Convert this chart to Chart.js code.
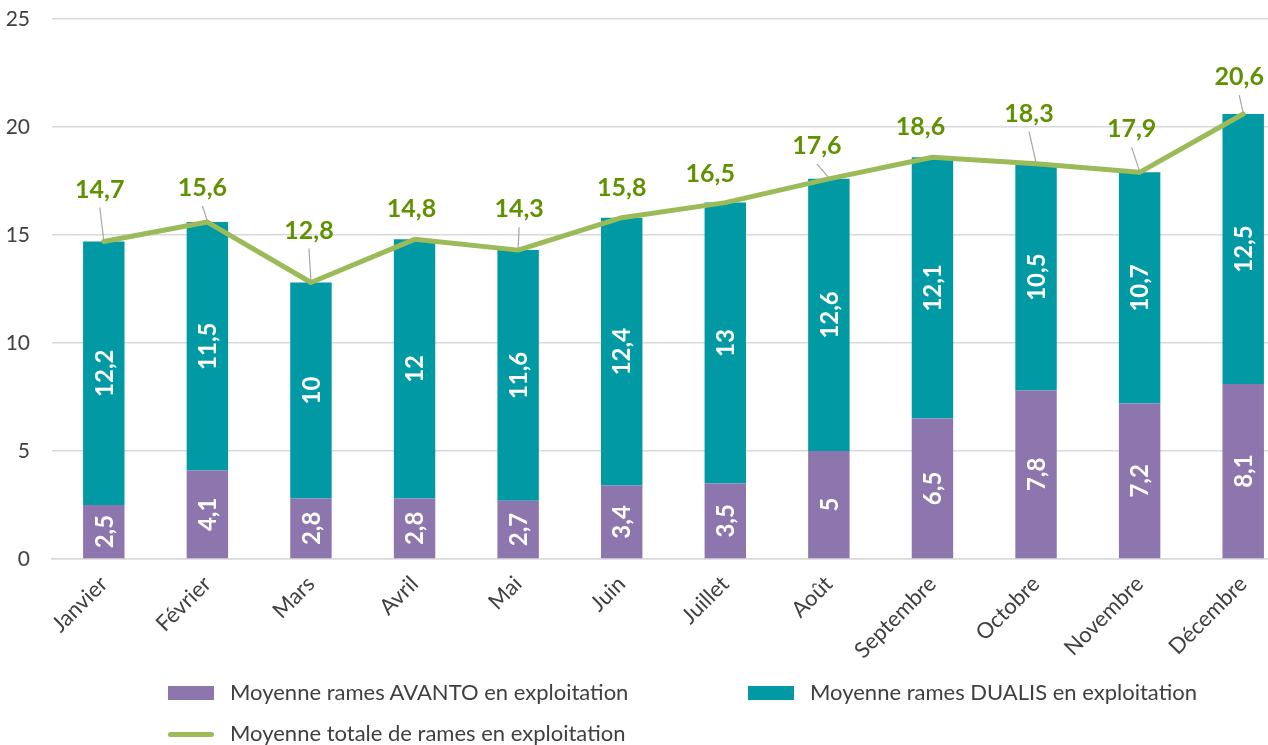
<!DOCTYPE html>
<html lang="fr">
<head>
<meta charset="utf-8">
<script src="https://cdn.jsdelivr.net/npm/chart.js@4/dist/chart.umd.min.js"></script>
<style>
  html, body { margin: 0; padding: 0; background: #fff; overflow: hidden; }
  #wrap { position: relative; width: 1268px; height: 745px; overflow: hidden; }
  #chart { position: absolute; left: 0; top: 0; }
  .legend-item { position: absolute; font-family: Lato, sans-serif; font-size: 22px; color: #404040; white-space: nowrap; line-height: 24px; }
  .swatch { position: absolute; }
</style>
</head>
<body>
<div id="wrap">
  <canvas id="chart" width="1295" height="745"></canvas>
</div>
<script>
// Data
const months = ['Janvier', 'Février', 'Mars', 'Avril', 'Mai', 'Juin', 'Juillet', 'Août', 'Septembre', 'Octobre', 'Novembre', 'Décembre'];
const avanto = [2.5, 4.1, 2.8, 2.8, 2.7, 3.4, 3.5, 5, 6.5, 7.8, 7.2, 8.1];
const dualis = [12.2, 11.5, 10, 12, 11.6, 12.4, 13, 12.6, 12.1, 10.5, 10.7, 12.5];
const total = [14.7, 15.6, 12.8, 14.8, 14.3, 15.8, 16.5, 17.6, 18.6, 18.3, 17.9, 20.6];

const seriesNames = [
  'Moyenne rames AVANTO en exploitation',
  'Moyenne rames DUALIS en exploitation',
  'Moyenne totale de rames en exploitation'
];

// style: where each total label sits relative to its point (px)
const totalLabelDx = [-4, -5, -2, -3, 1, 0, -15, -12, -12, -7, -8, -4];
const totalLabelLift = [52, 34, 52, 30, 41, 30, 29, 33, 30, 50, 43, 37];

const colors = {
  purple: '#8d75ad',
  teal: '#0099a4',
  line: '#9bbb59',
  labelGreen: '#5f9100',
  text: '#404040',
  grid: '#d9d9d9',
  leader: '#a6a6a6'
};

const fmt = v => String(v).replace('.', ',');

// labels drawn on top of bars and line
const valueLabels = {
  id: 'valueLabels',
  afterDatasetsDraw(chart) {
    const ctx = chart.ctx;
    ctx.save();
    // bar labels, rotated
    [0, 1].forEach(di => {
      const meta = chart.getDatasetMeta(di);
      const values = chart.data.datasets[di].data;
      meta.data.forEach((bar, i) => {
        const cy = (bar.y + bar.base) / 2;
        ctx.save();
        ctx.translate(bar.x, cy);
        ctx.rotate(-Math.PI / 2);
        ctx.fillStyle = '#ffffff';
        ctx.font = 'bold 24px Lato, sans-serif';
        ctx.textAlign = 'center';
        ctx.textBaseline = 'middle';
        ctx.fillText(fmt(values[i]), 0, 1);
        ctx.restore();
      });
    });
    // total labels with leader lines
    const lineMeta = chart.getDatasetMeta(2);
    lineMeta.data.forEach((pt, i) => {
      const lx = pt.x + totalLabelDx[i];
      const ly = pt.y - totalLabelLift[i];
      if (totalLabelLift[i] > 32) {
        ctx.strokeStyle = colors.leader;
        ctx.lineWidth = 1.2;
        ctx.beginPath();
        ctx.moveTo(lx, ly + 18);
        ctx.lineTo(pt.x, pt.y - 1);
        ctx.stroke();
      }
      ctx.fillStyle = colors.labelGreen;
      ctx.font = 'bold 25px Lato, sans-serif';
      ctx.textAlign = 'center';
      ctx.textBaseline = 'middle';
      ctx.fillText(fmt(total[i]), lx, ly);
    });
    ctx.restore();
  }
};

new Chart(document.getElementById('chart'), {
  type: 'bar',
  data: {
    labels: months,
    datasets: [
      {
        label: seriesNames[0],
        data: avanto,
        backgroundColor: colors.purple,
        stack: 'bars',
        order: 2,
        barPercentage: 0.4,
        categoryPercentage: 1
      },
      {
        label: seriesNames[1],
        data: dualis,
        backgroundColor: colors.teal,
        stack: 'bars',
        order: 2,
        barPercentage: 0.4,
        categoryPercentage: 1
      },
      {
        type: 'line',
        label: seriesNames[2],
        data: total,
        borderColor: colors.line,
        borderWidth: 5,
        pointRadius: 0,
        tension: 0,
        stack: 'total',
        order: 1,
        borderJoinStyle: 'round',
        borderCapStyle: 'round'
      }
    ]
  },
  options: {
    responsive: false,
    animation: false,
    devicePixelRatio: 1,
    layout: { padding: { top: 19, left: 0, right: 0, bottom: 0 } },
    plugins: {
      legend: { display: false },
      tooltip: { enabled: false }
    },
    scales: {
      x: {
        stacked: true,
        grid: { display: false, drawTicks: false },
        border: { color: colors.grid, width: 1.5 },
        ticks: {
          color: colors.text,
          font: { family: 'Lato, sans-serif', size: 22 },
          minRotation: 45,
          maxRotation: 45,
          padding: 12
        },
        afterFit(scale) { scale.height = 186; }
      },
      y: {
        stacked: true,
        min: 0,
        max: 25,
        grid: { color: colors.grid, lineWidth: 1.5, drawTicks: false },
        border: { display: false },
        ticks: {
          stepSize: 5,
          color: colors.text,
          font: { family: 'Lato, sans-serif', size: 21 },
          padding: 22
        },
        afterFit(scale) {
          scale.width = 52;
          scale.paddingTop = 0;
          scale.paddingBottom = 0;
        }
      }
    }
  },
  plugins: [valueLabels]
});

// legend (two columns, two rows like the original)
const legendSpec = [
  { name: seriesNames[0], color: colors.purple, kind: 'box', x: 168, y: 693 },
  { name: seriesNames[1], color: colors.teal, kind: 'box', x: 748, y: 693 },
  { name: seriesNames[2], color: colors.line, kind: 'line', x: 168, y: 734 }
];
const wrap = document.getElementById('wrap');
legendSpec.forEach(item => {
  const sw = document.createElement('div');
  sw.className = 'swatch';
  sw.style.left = item.x + 'px';
  sw.style.width = '46px';
  sw.style.background = item.color;
  if (item.kind === 'box') {
    sw.style.top = (item.y - 7) + 'px';
    sw.style.height = '14px';
  } else {
    sw.style.top = (item.y - 2.5) + 'px';
    sw.style.height = '5px';
    sw.style.borderRadius = '3px';
  }
  wrap.appendChild(sw);
  const tx = document.createElement('div');
  tx.className = 'legend-item';
  tx.textContent = item.name;
  tx.style.left = (item.x + 62) + 'px';
  tx.style.top = (item.y - 13) + 'px';
  wrap.appendChild(tx);
});
</script>
</body>
</html>
